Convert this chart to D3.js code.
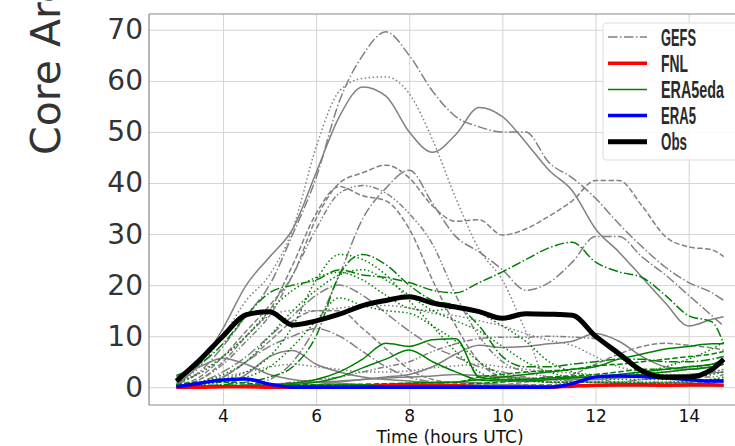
<!DOCTYPE html>
<html>
<head>
<meta charset="utf-8">
<script src="https://cdn.jsdelivr.net/npm/d3@7"></script>
<style>
  body { margin: 0; background: #fff; }
  svg { display: block; font-family: "DejaVu Sans", sans-serif; }
</style>
</head>
<body>
<svg id="chart" width="735" height="446"></svg>
<script>
// time axis (hours UTC)
var hours = [3, 3.5, 4, 4.5, 5, 5.5, 6, 6.5, 7, 7.5, 8, 8.5, 9, 9.5, 10, 10.5, 11, 11.5, 12, 12.5, 13, 13.5, 14, 14.5, 14.75];
var xTicks = [4, 6, 8, 10, 12, 14];
var yTicks = [0, 10, 20, 30, 40, 50, 60, 70];

// GEFS members (gray), each with its line style
var gefs = [
  { style: "dashdot", v: [0.5, 3, 8, 14, 20, 30, 41, 56, 65, 69.6, 65, 58, 53, 51, 50, 50, 44, 41, 37, 32, 27.5, 23.5, 20.5, 18.5, 17] },
  { style: "solid",   v: [0.5, 4.5, 11.5, 20, 25.5, 31, 42, 53, 58.8, 57, 50, 46, 49.5, 54.8, 53, 48, 42.5, 38.5, 31, 26.5, 21.5, 16.5, 12, 13.3, 13.8] },
  { style: "dotted",  v: [0.5, 4, 10, 17, 22, 31, 47, 58, 60.5, 60.8, 57.5, 48.5, 37, 27, 21, 11, 1, 0.6, 0.5, 0.5, 0.5, 0.5, 0.5, 0.5, 0.5] },
  { style: "dashed",  v: [0.3, 2, 6, 11, 16, 22, 33, 40, 42, 43.5, 41, 35.5, 32.5, 32.8, 29.8, 31, 33.5, 36.5, 40.5, 40.5, 35.5, 29.5, 27.5, 26.9, 25.6] },
  { style: "dashdot", v: [0, 0, 0.2, 0.5, 1.5, 5, 12, 22, 33, 39, 42.5, 36, 29.5, 26.5, 23, 19, 20.5, 24.5, 29.5, 29.5, 25.5, 22, 18, 14, 12] },
  { style: "dashed",  v: [0, 1.5, 5, 10, 15, 24, 34, 39.3, 37.5, 36.5, 31, 21, 12, 5, 2, 1.5, 1, 1, 1, 0.8, 0.8, 0.8, 1, 1, 1] },
  { style: "dashdotdot", v: [0.3, 1.5, 4.5, 9, 14, 22, 31, 38, 39.5, 38, 34, 28, 18, 10, 5, 3, 2, 1.5, 1.5, 1, 1, 1, 1, 1.5, 1.5] },
  { style: "solid",   v: [2, 4, 5.7, 4.5, 2.5, 1.5, 1, 0.8, 0.5, 0.3, 0.3, 0.3, 0.2, 0.2, 0.2, 0.2, 0.2, 0.2, 0.2, 0.2, 0.2, 0.2, 0.2, 0.2, 0.2] },
  { style: "solid",   v: [0, 0, 0.3, 2.5, 6, 7.2, 4.5, 3, 2, 1.5, 1.2, 1, 1, 0.8, 0.5, 0.4, 0.3, 0.3, 0.3, 0.3, 0.3, 0.3, 0.3, 0.3, 0.3] },
  { style: "solid",   v: [0, 0, 0, 0.1, 0.2, 0.3, 0.5, 1, 1.5, 2, 2.5, 4, 6.5, 8.2, 7.8, 8, 8.5, 9, 10.5, 9, 6, 4, 3.5, 4, 4.5] },
  { style: "dashdotdot", v: [0, 0, 0.1, 0.2, 0.5, 1, 1.5, 2, 3, 4, 5, 7, 8.5, 9.5, 9.8, 9.8, 10, 9.8, 9.5, 6, 3, 2, 2, 2, 2.5] },
  { style: "dashed",  v: [0, 0.5, 2, 5, 9, 13, 15, 15, 11.5, 7.5, 3.5, 1.5, 0.8, 0.5, 0.5, 0.5, 0.5, 0.5, 0.5, 0.5, 0.5, 0.5, 0.5, 0.5, 0.5] },
  { style: "dashed",  v: [0, 0, 0, 0, 0.1, 0.1, 0.2, 0.2, 0.3, 0.3, 0.3, 0.3, 0.4, 0.4, 0.5, 1, 1.5, 2.5, 4.5, 6.5, 8, 8.6, 8.2, 7.7, 7.3] },
  { style: "dotted",  v: [0.5, 3, 6, 10, 14, 15, 15, 15.5, 16, 16, 15.5, 14.5, 14, 13, 12, 10.5, 9.2, 8.2, 6, 4, 3, 2.5, 2.5, 3, 3.5] },
  { style: "dashdot", v: [0, 0.5, 2, 5, 8, 10, 11.5, 10, 7, 4, 2, 1, 0.5, 0.4, 0.3, 0.3, 0.3, 0.3, 0.3, 0.3, 0.3, 0.3, 0.3, 0.3, 0.3] },
  { style: "dotted",  v: [0.5, 1, 2, 3, 4, 4.5, 4, 3.5, 3, 3, 3.2, 3.8, 4.2, 4.5, 4, 3.5, 3, 2.8, 2.5, 2.5, 2.8, 3, 3.5, 4.5, 5] },
  { style: "dashdot", v: [0, 1, 3, 6, 10, 14, 18, 20, 18, 14.5, 11, 8, 6, 4, 3, 2, 1.5, 1.2, 1, 1, 1.5, 2, 2.5, 3, 3.5] },
  { style: "solid",   v: [0, 0, 0.2, 0.4, 0.6, 0.8, 1, 1.2, 1.5, 1.8, 2, 2.2, 2.5, 2.3, 2, 1.8, 1.5, 1.5, 1.5, 1.8, 2, 2.2, 2.5, 2.8, 3] }
];

// ERA5 ensemble of data assimilations (green)
var era5eda = [
  { style: "dashdot", v: [2.3, 4.5, 8.5, 14, 18.5, 20, 21, 23, 22, 21.5, 20.5, 19, 18.5, 20.5, 22.6, 25, 27.3, 28.4, 24.5, 22.6, 21.5, 18, 14, 12.8, 8.5] },
  { style: "dashdot", v: [0, 0.2, 0.5, 1, 2, 4, 10, 22, 26, 24, 20, 17, 16, 12, 6, 4, 4, 4.5, 5, 5.5, 5.5, 5, 5, 5.5, 6] },
  { style: "dotted",  v: [0, 0.5, 1.5, 3, 6, 12, 21, 26, 25, 22, 17, 12, 7, 3, 1.5, 1.2, 1, 1, 1, 1, 1, 1, 1.2, 1.5, 1.5] },
  { style: "dotted",  v: [0.5, 1, 2.5, 5, 10, 15, 19, 22, 23, 21, 18, 15, 13, 11, 8, 5, 3, 2, 2, 2.5, 3, 4, 5.5, 7.5, 8.8] },
  { style: "dotted",  v: [0, 0.5, 1, 2, 4, 8, 13, 17.5, 16, 15, 14.5, 12, 9, 5, 2.5, 1.5, 1, 1, 1, 0.8, 0.8, 0.8, 1, 1.5, 2] },
  { style: "dotted",  v: [1, 2.7, 6, 10, 15, 19, 21.5, 22.5, 21, 18, 15.5, 15, 15.5, 14.5, 12, 9, 5, 3, 2, 1.5, 1.5, 1.5, 2, 2.5, 3] },
  { style: "solid",   v: [0, 0.1, 0.2, 0.3, 0.5, 0.8, 1.5, 3, 5.5, 8.6, 8, 9.3, 9.5, 2, 1.5, 1.5, 1.8, 2, 2, 2.5, 3, 3.5, 4, 4.5, 5.5] },
  { style: "solid",   v: [0, 0, 0.1, 0.2, 0.3, 0.5, 1, 2, 3.8, 5.5, 7.3, 5, 3, 1.4, 1.2, 1.2, 1.5, 1.8, 2, 2.2, 2.5, 3, 3.5, 4, 4.5] },
  { style: "solid",   v: [0.2, 0.3, 0.3, 0.3, 0.3, 0.3, 0.4, 0.5, 0.5, 0.6, 0.8, 0.9, 1, 1.5, 2, 2.5, 3, 3.5, 4, 5.5, 6.5, 7.5, 8, 8.5, 8.5] },
  { style: "dashed",  v: [0.5, 1, 1, 0.8, 0.5, 0.5, 0.5, 0.5, 0.6, 0.7, 0.8, 0.9, 1, 2, 2.5, 3, 3.2, 3.5, 4.2, 4.5, 5, 5.5, 6, 6.5, 7] },
  { style: "dashed",  v: [0.2, 0.3, 0.4, 0.4, 0.3, 0.3, 0.3, 0.3, 0.3, 0.3, 0.4, 0.4, 0.5, 0.8, 1, 1.5, 2, 2.2, 2.5, 3, 3.5, 3.5, 4, 4.5, 5] }
];

var fnl  = [0, 0, 0.1, 0.1, 0, 0, 0, 0, 0.1, 0.3, 0.4, 0.4, 0.3, 0.1, 0, 0, 0, 0.2, 0.4, 0.5, 0.5, 0.4, 0.5, 0.5, 0.4];
var era5 = [0.1, 0.8, 1.4, 1.6, 0.6, 0, 0, 0, 0, 0, 0, 0, 0, 0, 0, 0, 0, 0.7, 2.0, 2.2, 2.1, 1.8, 1.5, 1.2, 1.2];
var obs  = [1.2, 5.3, 10, 14.2, 14.8, 12.2, 13, 14.3, 16, 17, 17.7, 16.5, 15.7, 14.8, 13.5, 14.4, 14.3, 14.1, 10, 6.6, 3.2, 2.0, 2.0, 3.5, 5.5];

var legendNames = ["GEFS", "FNL", "ERA5eda", "ERA5", "Obs"];

var dashes = {
  solid: null,
  dashed: "5.5,2.4",
  dotted: "1.5,2.5",
  dashdot: "9.6,2.4,1.5,2.4",
  dashdotdot: "6,2.2,1.5,2.2,1.5,2.2"
};

var svg = d3.select("#chart");
var pL = 149, pT = 14, pB = 405, pR = 751;

var x = d3.scaleLinear().domain([2.4125, 15.3375]).range([pL, pR]);
var y = d3.scaleLinear().domain([-3.48, 73.1]).range([pB, pT]);

// grid
svg.append("g")
  .attr("transform", "translate(0," + pB + ")")
  .call(d3.axisBottom(x).tickValues(xTicks).tickSize(-(pB - pT)).tickFormat(""))
  .call(function(g) { g.select(".domain").remove(); })
  .selectAll("line").attr("stroke", "#d4d4d4").attr("stroke-width", 1);
svg.append("g")
  .attr("transform", "translate(" + pL + ",0)")
  .call(d3.axisLeft(y).tickValues(yTicks).tickSize(-(pR - pL)).tickFormat(""))
  .call(function(g) { g.select(".domain").remove(); })
  .selectAll("line").attr("stroke", "#d4d4d4").attr("stroke-width", 1);

svg.append("clipPath").attr("id", "clip")
  .append("rect").attr("x", pL).attr("y", pT).attr("width", pR - pL).attr("height", pB - pT);

var line = d3.line()
  .x(function(d, i) { return x(hours[i]); })
  .y(function(d) { return y(d); })
  .curve(d3.curveMonotoneX);

var plot = svg.append("g").attr("clip-path", "url(#clip)");

plot.selectAll("path.gefs")
  .data(gefs)
  .enter().append("path")
  .attr("class", "gefs")
  .attr("d", function(d) { return line(d.v); })
  .attr("fill", "none")
  .attr("stroke", "#808080")
  .attr("stroke-width", 1.5)
  .attr("stroke-dasharray", function(d) { return dashes[d.style]; });

plot.selectAll("path.eda")
  .data(era5eda)
  .enter().append("path")
  .attr("class", "eda")
  .attr("d", function(d) { return line(d.v); })
  .attr("fill", "none")
  .attr("stroke", "#008000")
  .attr("stroke-width", 1.5)
  .attr("stroke-dasharray", function(d) { return dashes[d.style]; });

plot.append("path").attr("d", line(fnl)).attr("fill", "none")
  .attr("stroke", "#ff0000").attr("stroke-width", 3.5);
plot.append("path").attr("d", line(era5)).attr("fill", "none")
  .attr("stroke", "#0000ff").attr("stroke-width", 3.5);
plot.append("path").attr("d", line(obs)).attr("fill", "none")
  .attr("stroke", "#000").attr("stroke-width", 5).attr("stroke-linejoin", "round");

// spines
svg.append("line").attr("x1", pL).attr("x2", pL).attr("y1", pT).attr("y2", pB)
  .attr("stroke", "#888").attr("stroke-width", 1.2);
svg.append("line").attr("x1", pL).attr("x2", pR).attr("y1", pB).attr("y2", pB)
  .attr("stroke", "#888").attr("stroke-width", 1.2);
svg.append("line").attr("x1", pL).attr("x2", pR).attr("y1", pT).attr("y2", pT)
  .attr("stroke", "#888").attr("stroke-width", 1.2);

// tick labels
var yAxis = svg.append("g")
  .attr("transform", "translate(" + pL + ",0)")
  .call(d3.axisLeft(y).tickValues(yTicks).tickSize(0).tickPadding(6));
yAxis.select(".domain").remove();
yAxis.selectAll("text").attr("font-size", 28).attr("fill", "#333").attr("font-family", "DejaVu Sans");

var xAxis = svg.append("g")
  .attr("transform", "translate(0," + pB + ")")
  .call(d3.axisBottom(x).tickValues(xTicks).tickSize(0).tickPadding(5));
xAxis.select(".domain").remove();
xAxis.selectAll("text").attr("font-size", 17).attr("fill", "#111").attr("font-family", "DejaVu Sans");

svg.append("text")
  .attr("x", 450).attr("y", 443)
  .attr("text-anchor", "middle")
  .attr("font-size", 17).attr("fill", "#111")
  .text("Time (hours UTC)");

svg.append("text")
  .attr("transform", "translate(60,155) rotate(-90)")
  .attr("font-size", 41).attr("fill", "#333")
  .text("Core Area (km²)");

// legend
var lg = svg.append("g");
lg.append("rect")
  .attr("x", 603).attr("y", 23).attr("width", 160).attr("height", 137)
  .attr("rx", 3).attr("fill", "#fff").attr("fill-opacity", 0.85)
  .attr("stroke", "#ddd");

var legendStyle = [
  { color: "#808080", w: 1.5, dash: dashes.dashdot, len: 35 },
  { color: "#ff0000", w: 3.5, dash: null, len: 27 },
  { color: "#008000", w: 1.5, dash: null, len: 63 },
  { color: "#0000ff", w: 3.5, dash: null, len: 35 },
  { color: "#000", w: 5, dash: null, len: 26 }
];

var items = lg.selectAll("g.item")
  .data(legendNames)
  .enter().append("g")
  .attr("transform", function(d, i) { return "translate(0," + (37 + i * 26.2) + ")"; });
items.append("line")
  .attr("x1", 608).attr("x2", 647)
  .attr("stroke", function(d, i) { return legendStyle[i].color; })
  .attr("stroke-width", function(d, i) { return legendStyle[i].w; })
  .attr("stroke-dasharray", function(d, i) { return legendStyle[i].dash; });
items.append("text")
  .attr("x", 661).attr("y", 8.5)
  .attr("font-family", "Liberation Sans Narrow, sans-serif")
  .attr("font-size", 23).attr("font-weight", "bold").attr("fill", "#2a2a2a")
  .attr("textLength", function(d, i) { return legendStyle[i].len; })
  .attr("lengthAdjust", "spacingAndGlyphs")
  .text(function(d) { return d; });
</script>
</body>
</html>
